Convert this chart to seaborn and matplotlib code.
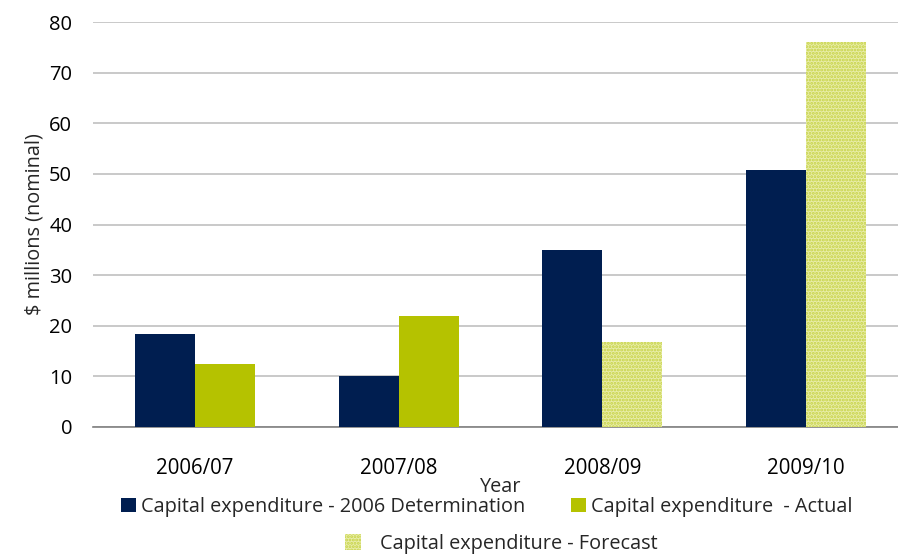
import matplotlib
matplotlib.use("Agg")
import matplotlib.pyplot as plt
from matplotlib.patches import Patch
import seaborn as sns
import pandas as pd

years = ["2006/07", "2007/08", "2008/09", "2009/10"]
determination = [18.4, 10.1, 35.0, 50.8]
actual_or_forecast = [12.4, 21.9, 16.8, 76.1]
is_forecast = [False, False, True, True]

lbl_det = "Capital expenditure - 2006 Determination"
lbl_act = "Capital expenditure  - Actual"
lbl_fc = "Capital expenditure - Forecast"

navy = "#001E50"
green = "#B5C200"
fc_face = "#E8EDA8"
fc_dots = "#C6D243"

df = pd.DataFrame({
    "Year": years * 2,
    "value": determination + actual_or_forecast,
    "series": ["det"] * 4 + ["out"] * 4,
})

sns.set_style("white")
plt.rcParams["font.family"] = ["Open Sans", "DejaVu Sans"]
plt.rcParams["hatch.linewidth"] = 1.4

W, H = 898, 558
fig = plt.figure(figsize=(W / 100, H / 100), dpi=100)
# plot area runs slightly past the right edge of the canvas
ax = fig.add_axes([93 / W, 1 - 427 / H, (908 - 93) / W, (427 - 22) / H])

sns.barplot(data=df, x="Year", y="value", hue="series",
            palette={"det": navy, "out": green}, width=0.59,
            saturation=1, legend=False, ax=ax, zorder=3)

# second-series bars for projected years use a dotted light fill
out_bars = ax.containers[1]
for bar, fc in zip(out_bars, is_forecast):
    bar.set_linewidth(0)
    if fc:
        bar.set_facecolor(fc_face)
        bar.set_hatch(".....")
        bar.set_edgecolor(fc_dots)
for bar in ax.containers[0]:
    bar.set_linewidth(0)

ax.set_ylim(0, 80)
ax.set_xlim(-0.5, 3.5)
ax.set_yticks(range(0, 81, 10))
ax.yaxis.grid(True, color="#C0C0C0", linewidth=1.2, zorder=0)
ax.set_axisbelow(True)

for side in ["top", "right", "left"]:
    ax.spines[side].set_visible(False)
ax.spines["bottom"].set_color("#808080")
ax.spines["bottom"].set_linewidth(1.2)

ax.set_xticks(range(len(years)))
ax.set_xticklabels(years)
ax.set_xticks([-0.5, 0.5, 1.5, 2.5, 3.5], minor=True)
ax.tick_params(axis="x", which="major", length=0, labelsize=14.8, pad=22,
               labelcolor="black")
ax.tick_params(axis="x", which="minor", length=6, width=1.2, color="#808080",
               direction="out")
ax.tick_params(axis="y", length=0, labelsize=14.5, pad=15, labelcolor="black")

ax.set_xlabel("Year", fontsize=14.3, labelpad=-1)
ax.set_ylabel("$ millions (nominal)", fontsize=14.3, labelpad=3)

h_det = Patch(facecolor=navy, edgecolor="none")
h_act = Patch(facecolor=green, edgecolor="none")
h_fc = Patch(facecolor=fc_face, edgecolor=fc_dots, hatch=".....", linewidth=0)

leg1 = fig.legend([h_det, h_act], [lbl_det, lbl_act], ncol=2, frameon=False,
                  loc="center", bbox_to_anchor=(487 / W, 1 - 507 / H),
                  fontsize=14.3, handlelength=0.75, handleheight=0.75,
                  handletextpad=0.25, columnspacing=2.3)
leg2 = fig.legend([h_fc], [lbl_fc], frameon=False,
                  loc="center", bbox_to_anchor=(501 / W, 1 - 544 / H),
                  fontsize=14.3, handlelength=0.8, handleheight=0.85,
                  handletextpad=0.95)

fig.savefig("out.png", dpi=100)
